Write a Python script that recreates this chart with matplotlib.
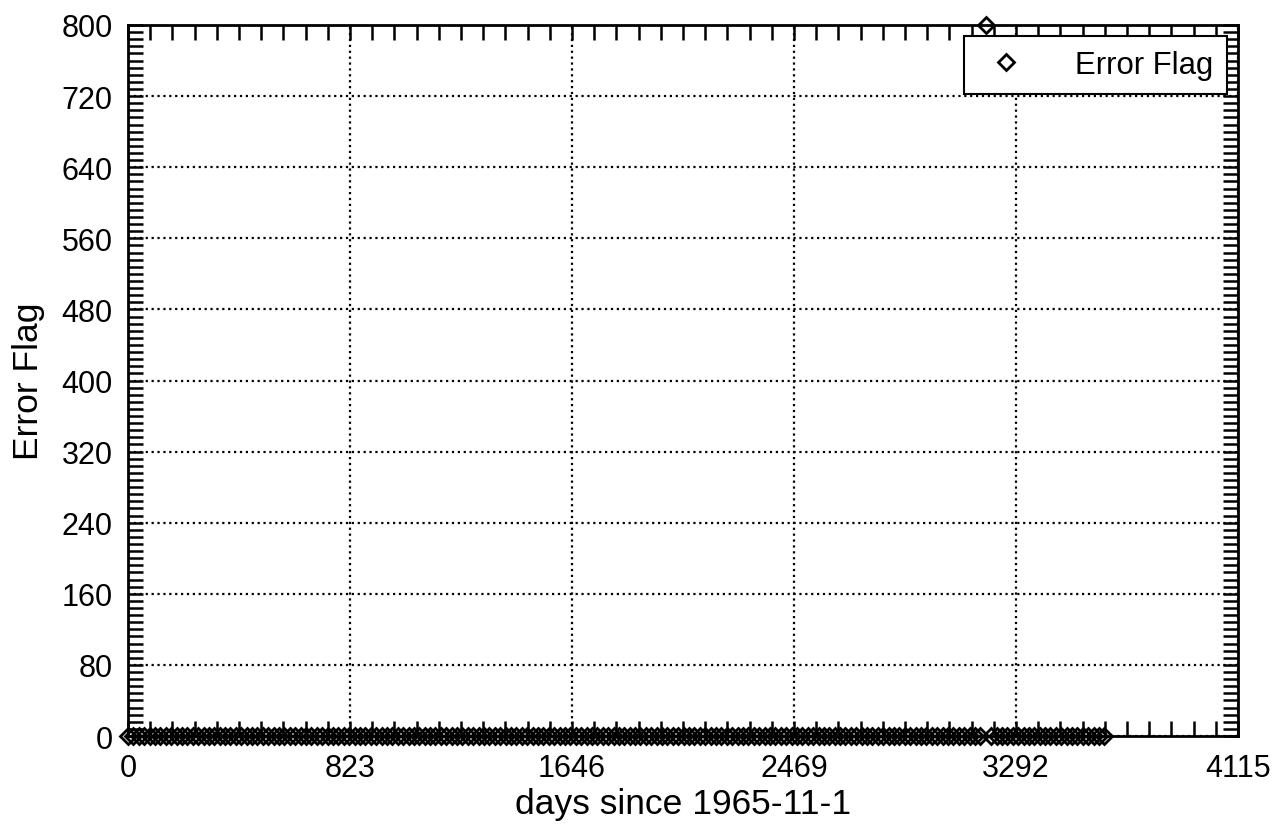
import matplotlib
matplotlib.use('Agg')
import matplotlib.pyplot as plt
from matplotlib.ticker import AutoMinorLocator

plt.rcParams['font.family'] = ['Liberation Sans', 'DejaVu Sans']

# sample days (approx. every 20 days, read off the marker spacing)
days = [
    0, 20, 40, 60, 80, 100, 120, 140, 160, 180, 200, 220, 240, 260, 280, 300,
    320, 340, 360, 380, 400, 420, 440, 460, 480, 500, 520, 540, 560, 580, 600,
    620, 640, 660, 680, 700, 720, 740, 760, 780, 800, 820, 840, 860, 880, 900,
    920, 940, 960, 980, 1000, 1020, 1040, 1060, 1080, 1100, 1120, 1140, 1160,
    1180, 1200, 1220, 1240, 1260, 1280, 1300, 1320, 1340, 1360, 1380, 1400,
    1420, 1440, 1460, 1480, 1500, 1520, 1540, 1560, 1580, 1600, 1620, 1640,
    1660, 1680, 1700, 1720, 1740, 1760, 1780, 1800, 1820, 1840, 1860, 1880,
    1900, 1920, 1940, 1960, 1980, 2000, 2020, 2040, 2060, 2080, 2100, 2120,
    2140, 2160, 2180, 2200, 2220, 2240, 2260, 2280, 2300, 2320, 2340, 2360,
    2380, 2400, 2420, 2440, 2460, 2480, 2500, 2520, 2540, 2560, 2580, 2600,
    2620, 2640, 2660, 2680, 2700, 2720, 2740, 2760, 2780, 2800, 2820, 2840,
    2860, 2880, 2900, 2920, 2940, 2960, 2980, 3000, 3020, 3040, 3060, 3080,
    3100, 3120, 3140, 3160, 3180, 3200, 3220, 3240, 3260, 3280, 3300, 3320,
    3340, 3360, 3380, 3400, 3420, 3440, 3460, 3480, 3500, 3520, 3540, 3560,
    3580, 3600, 3620,
]
# flag is 0 everywhere except one sample that reads 800
flag_days = [3180]
flag_vals = [800]
flags = [flag_vals[flag_days.index(d)] if d in flag_days else 0 for d in days]

x_ticks = [0, 823, 1646, 2469, 3292, 4115]
y_ticks = [0, 80, 160, 240, 320, 400, 480, 560, 640, 720, 800]

fig = plt.figure(figsize=(12.85, 8.28), dpi=100)
ax = fig.add_axes([0.0996, 0.1099, 0.8638, 0.8587])

ax.plot(days, flags, linestyle='none', marker='D', markersize=8.5,
        markerfacecolor='none', markeredgecolor='black', markeredgewidth=2,
        label='Error Flag', clip_on=False, zorder=3)

ax.set_xlim(0, 4115)
ax.set_ylim(0, 800)
ax.set_xticks(x_ticks)
ax.set_yticks(y_ticks)
ax.xaxis.set_minor_locator(AutoMinorLocator(10))
ax.yaxis.set_minor_locator(AutoMinorLocator(10))
ax.tick_params(which='both', direction='in', top=True, right=True,
               length=11, width=1.8, labelsize=22)
ax.tick_params(axis='x', pad=12)
ax.tick_params(axis='y', pad=11)

ax.grid(True, which='major', linestyle=':', color='black', linewidth=1.6)
for s in ax.spines.values():
    s.set_linewidth(2)

ax.set_xlabel('days since 1965-11-1', fontsize=25.5, labelpad=3)
ax.set_ylabel('Error Flag', fontsize=25.5, labelpad=12)

leg = ax.legend(loc='upper right', fontsize=22.4, fancybox=False, framealpha=1,
                edgecolor='black', borderpad=0.45, handletextpad=1.3,
                borderaxespad=0.35, handlelength=1.8)
leg.get_frame().set_linewidth(1.5)

fig.savefig('out.png', dpi=100)
